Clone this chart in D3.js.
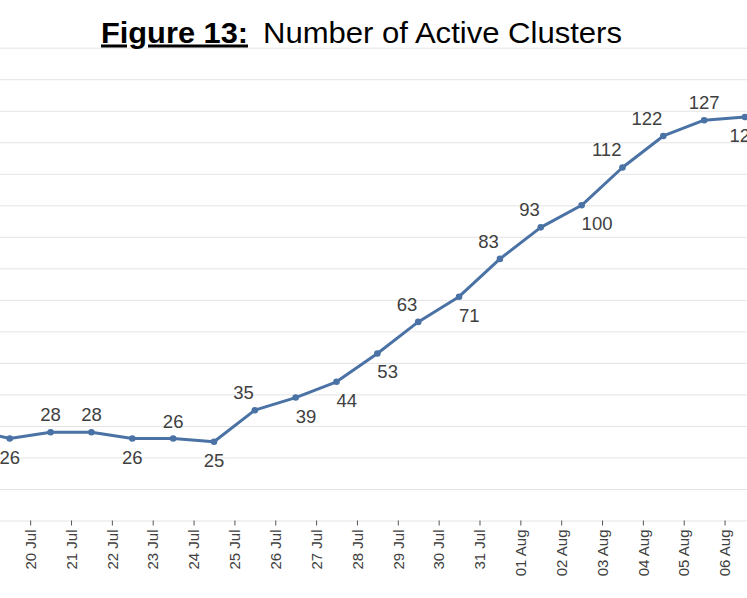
<!DOCTYPE html>
<html lang="en">
<head>
    <meta charset="UTF-8">
    <title>Number of Active Clusters</title>
    <style>
        body {
            margin: 0;
            padding: 0;
            background-color: #fff;
        }
        svg {
            display: block;
            background-color: #fff;
            font-family: 'Liberation Sans', Arial, sans-serif;
        }
        .grid line {
            stroke: #e4e4e4;
            stroke-width: 1px;
        }
        .x-axis line {
            stroke: #555;
        }
        .x-axis text {
            fill: #404040;
            font-size: 15px;
        }
        .point-label {
            fill: #404040;
            font-size: 18.5px;
        }
    </style>
</head>
<body>
    <svg id="chart" width="747" height="598"></svg>

    <script src="https://cdn.jsdelivr.net/npm/d3@7/dist/d3.min.js"></script>
    <script>
// Daily dates (the view is cropped on both sides, like the original figure)
const dates = ["19 Jul", "20 Jul", "21 Jul", "22 Jul", "23 Jul", "24 Jul", "25 Jul",
    "26 Jul", "27 Jul", "28 Jul", "29 Jul", "30 Jul", "31 Jul", "01 Aug",
    "02 Aug", "03 Aug", "04 Aug", "05 Aug", "06 Aug", "07 Aug"];

// Number of active clusters
const activeClusters = [29, 26, 28, 28, 26, 26, 25, 35, 39, 44, 53, 63, 71, 83, 93, 100, 112, 122, 127, 128];

// where each value label sits: t = above, b = below, tl = above-left, br = below-right
const labelSide = ["t", "b", "t", "t", "b", "t", "b", "tl", "br", "br", "br", "tl", "br",
    "tl", "tl", "br", "tl", "tl", "t", "b"];

const yTicks = d3.range(0, 151, 10);

const svg = d3.select("#chart"),
    width = +svg.attr("width"),
    height = +svg.attr("height");

const x = d3.scalePoint()
    .domain(dates)
    .range([-31.1, 745]);

const y = d3.scaleLinear()
    .domain([0, 150])
    .range([520.5, 47.7]);

// horizontal gridlines
const grid = svg.append("g")
    .attr("class", "grid")
    .call(d3.axisLeft(y).tickValues(yTicks).tickSize(-width).tickFormat(""));
grid.select(".domain").remove();

// date labels sit half a step to the right of each point
const xAxis = svg.append("g")
    .attr("class", "x-axis")
    .attr("transform", `translate(${x.step() / 2},${y(0)})`)
    .call(d3.axisBottom(x).tickSize(5).tickSizeOuter(0));
xAxis.select(".domain").remove();
xAxis.selectAll("text")
    .attr("transform", "rotate(-90)")
    .attr("text-anchor", "end")
    .attr("x", -9)
    .attr("y", 0)
    .attr("dy", "0.35em")
    .style("font-family", "'Liberation Sans', Arial, sans-serif");

const lineColor = "#4a72a5";

const line = d3.line()
    .x((d, i) => x(dates[i]))
    .y(d => y(d));

svg.append("path")
    .datum(activeClusters)
    .attr("fill", "none")
    .attr("stroke", lineColor)
    .attr("stroke-width", 3)
    .attr("stroke-linejoin", "round")
    .attr("d", line);

svg.append("g")
    .selectAll("circle")
    .data(activeClusters)
    .join("circle")
    .attr("cx", (d, i) => x(dates[i]))
    .attr("cy", d => y(d))
    .attr("r", 3.3)
    .attr("fill", lineColor);

// value labels
svg.append("g")
    .selectAll("text")
    .data(activeClusters)
    .join("text")
    .attr("class", "point-label")
    .attr("x", (d, i) => {
        const s = labelSide[i];
        return x(dates[i]) + (s === "tl" ? -1 : 0);
    })
    .attr("y", (d, i) => y(d) + (labelSide[i][0] === "t" ? -11 : 25))
    .attr("text-anchor", (d, i) => {
        const s = labelSide[i];
        if (s === "tl") return "end";
        if (s === "br") return "start";
        return "middle";
    })
    .text(d => d);

// title
const title = svg.append("g");
title.append("text")
    .attr("x", 101)
    .attr("y", 42.5)
    .attr("font-size", 30)
    .attr("font-weight", "bold")
    .attr("text-decoration", "underline")
    .attr("textLength", 147)
    .attr("lengthAdjust", "spacingAndGlyphs")
    .attr("fill", "#000")
    .text("Figure 13:");
title.append("text")
    .attr("x", 263)
    .attr("y", 42.5)
    .attr("font-size", 30)
    .attr("textLength", 359)
    .attr("lengthAdjust", "spacingAndGlyphs")
    .attr("fill", "#000")
    .text("Number of Active Clusters");
    </script>
</body>
</html>
